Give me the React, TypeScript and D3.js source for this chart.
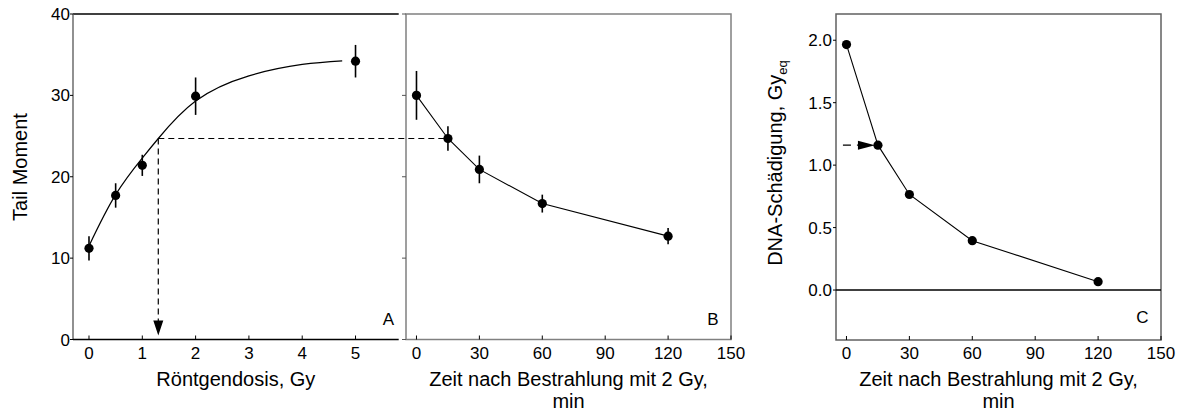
import React from "react";
import * as d3 from "d3";

// Panel A: tail moment vs. X-ray dose
const doseA = [0, 0.5, 1, 2, 5];
const tailA = [11.2, 17.7, 21.4, 29.9, 34.2];
const errA = [1.5, 1.5, 1.3, 2.3, 2.0];
// fitted dose–response curve (support points)
const fitDose = [0, 0.5, 1, 1.3, 2, 3, 4, 4.75];
const fitTail = [11.5, 17.8, 22.3, 24.7, 29.3, 32.4, 33.8, 34.25];
// read-off: tail moment after 15 min repair -> equivalent dose
const readDose = 1.3;
const readTail = 24.7;

// Panel B: tail moment vs. repair time after 2 Gy
const timeB = [0, 15, 30, 60, 120];
const tailB = [30.0, 24.7, 20.9, 16.7, 12.7];
const errB = [3.0, 1.5, 1.7, 1.1, 1.0];

// Panel C: DNA damage in Gy equivalents
const timeC = [0, 15, 30, 60, 120];
const damageC = [1.965, 1.16, 0.765, 0.395, 0.067];

const ticksA = [0, 1, 2, 3, 4, 5];
const ticksY = [0, 10, 20, 30, 40];
const ticksT = [0, 30, 60, 90, 120, 150];
const ticksC = [0, 0.5, 1.0, 1.5, 2.0];

const FONT = "'Liberation Sans', Arial, Helvetica, sans-serif";
const TICK_FS = 17;
const TITLE_FS = 20;

const xA = d3.scaleLinear().domain([-0.3, 5.81]).range([73, 398.7]);
const yA = d3.scaleLinear().domain([0, 40]).range([339.5, 14]);
const xB = d3.scaleLinear().domain([-5, 150]).range([406, 731]);
const yB = yA;
const xC = d3.scaleLinear().domain([-5, 150]).range([836, 1161]);
const yC = d3.scaleLinear().domain([-0.4, 2.21]).range([340, 14]);

const R = 4.6;

function Dots({ xs, ys, x, y, err }: { xs: number[]; ys: number[]; x: any; y: any; err?: number[] }) {
  return (
    <g>
      {err &&
        xs.map((d, i) => (
          <line
            key={"e" + i}
            x1={x(d)}
            x2={x(d)}
            y1={y(ys[i] - err[i])}
            y2={y(ys[i] + err[i])}
            stroke="#000"
            strokeWidth={1.6}
          />
        ))}
      {xs.map((d, i) => (
        <circle key={"c" + i} cx={x(d)} cy={y(ys[i])} r={R} fill="#000" />
      ))}
    </g>
  );
}

export default function App() {
  const fitLine = d3
    .line<number>()
    .x((d) => xA(d))
    .y((_, i) => yA(fitTail[i]))
    .curve(d3.curveNatural)(fitDose) as string;

  const lineB = d3
    .line<number>()
    .x((d) => xB(d))
    .y((_, i) => yB(tailB[i]))(timeB) as string;

  const lineC = d3
    .line<number>()
    .x((d) => xC(d))
    .y((_, i) => yC(damageC[i]))(timeC) as string;

  const [a0, a1] = xA.range();
  const [aBot, aTop] = yA.range();
  const [b0, b1] = xB.range();
  const [c0, c1] = xC.range();
  const [cBot, cTop] = yC.range();

  const readX = xA(readDose);
  const readY = yA(readTail);
  const arrowTipY = aBot - 4;

  const arrowCY = yC(damageC[1]);
  const arrowTipX = xC(timeC[1]) - 3;

  return (
    <svg
      width={1186}
      height={415}
      style={{ position: "absolute", left: 0, top: 0, background: "#fff" }}
      fontFamily={FONT}
    >
      {/* ---------- Panel A ---------- */}
      <line x1={a0} x2={a1} y1={aTop} y2={aTop} stroke="#000" strokeWidth={1.3} />
      <line x1={a0} x2={a0} y1={aTop} y2={aBot} stroke="#555" strokeWidth={1.3} />
      <line x1={a0} x2={a1} y1={aBot} y2={aBot} stroke="#000" strokeWidth={1.3} />
      {ticksY.map((t) => (
        <g key={"ya" + t}>
          <line x1={a0 - 3} x2={a0} y1={yA(t)} y2={yA(t)} stroke="#000" strokeWidth={1} />
          <text x={a0 - 3} y={yA(t)} dy="0.36em" textAnchor="end" fontSize={TICK_FS}>
            {t}
          </text>
        </g>
      ))}
      {ticksA.map((t) => (
        <g key={"xa" + t}>
          <line x1={xA(t)} x2={xA(t)} y1={aBot} y2={aBot - 4} stroke="#000" strokeWidth={1} />
          <text x={xA(t)} y={358.5} textAnchor="middle" fontSize={TICK_FS}>
            {t}
          </text>
        </g>
      ))}
      <text
        transform={`translate(27, 167) rotate(-90)`}
        textAnchor="middle"
        fontSize={TITLE_FS}
      >
        Tail Moment
      </text>
      <text x={(a0 + a1) / 2} y={386} textAnchor="middle" fontSize={TITLE_FS}>
        Röntgendosis, Gy
      </text>
      <text x={394} y={325} textAnchor="end" fontSize={17}>
        A
      </text>

      <path d={fitLine} fill="none" stroke="#000" strokeWidth={1.2} />

      {/* read-off lines */}
      <line
        x1={readX}
        x2={xB(timeB[1])}
        y1={readY}
        y2={readY}
        stroke="#000"
        strokeWidth={1.2}
        strokeDasharray="6,4"
      />
      <line
        x1={readX}
        x2={readX}
        y1={readY}
        y2={arrowTipY - 14}
        stroke="#000"
        strokeWidth={1.2}
        strokeDasharray="6,4"
      />
      <path
        d={`M${readX - 5},${arrowTipY - 15} L${readX + 5},${arrowTipY - 15} L${readX},${arrowTipY} Z`}
        fill="#000"
      />

      <Dots xs={doseA} ys={tailA} x={xA} y={yA} err={errA} />

      {/* ---------- Panel B ---------- */}
      <rect
        x={b0}
        y={aTop}
        width={b1 - b0}
        height={aBot - aTop}
        fill="none"
        stroke="#808080"
        strokeWidth={1.5}
      />
      {ticksY.map((t) => (
        <line key={"yb" + t} x1={b0 - 4} x2={b0} y1={yB(t)} y2={yB(t)} stroke="#555" strokeWidth={1} />
      ))}
      {ticksT.map((t) => (
        <g key={"xb" + t}>
          <line x1={xB(t)} x2={xB(t)} y1={aBot} y2={aBot - 4} stroke="#000" strokeWidth={1} />
          <text x={xB(t)} y={358.5} textAnchor="middle" fontSize={TICK_FS}>
            {t}
          </text>
        </g>
      ))}
      <text x={(b0 + b1) / 2} y={386} textAnchor="middle" fontSize={TITLE_FS}>
        Zeit nach Bestrahlung mit 2 Gy,
      </text>
      <text x={(b0 + b1) / 2} y={408} textAnchor="middle" fontSize={TITLE_FS}>
        min
      </text>
      <text x={718.5} y={325} textAnchor="end" fontSize={17}>
        B
      </text>
      <path d={lineB} fill="none" stroke="#000" strokeWidth={1.1} />
      <Dots xs={timeB} ys={tailB} x={xB} y={yB} err={errB} />

      {/* ---------- Panel C ---------- */}
      <rect
        x={c0}
        y={cTop}
        width={c1 - c0}
        height={cBot - cTop}
        fill="none"
        stroke="#606060"
        strokeWidth={1.5}
      />
      <line x1={c0} x2={c1} y1={yC(0)} y2={yC(0)} stroke="#000" strokeWidth={1.6} />
      {ticksC.map((t) => (
        <g key={"yc" + t}>
          <line x1={c0 - 3} x2={c0} y1={yC(t)} y2={yC(t)} stroke="#000" strokeWidth={1} />
          <text x={c0 - 4} y={yC(t)} dy="0.36em" textAnchor="end" fontSize={TICK_FS}>
            {t.toFixed(1)}
          </text>
        </g>
      ))}
      {ticksT.map((t) => (
        <g key={"xc" + t}>
          <line x1={xC(t)} x2={xC(t)} y1={cBot} y2={cBot - 4} stroke="#000" strokeWidth={1} />
          <text x={xC(t)} y={358.5} textAnchor="middle" fontSize={TICK_FS}>
            {t}
          </text>
        </g>
      ))}
      <text
        transform={`translate(781.5, 163) rotate(-90)`}
        textAnchor="middle"
        fontSize={TITLE_FS}
      >
        DNA-Schädigung, Gy
        <tspan fontSize={13} dy={5}>
          eq
        </tspan>
      </text>
      <text x={(c0 + c1) / 2} y={386} textAnchor="middle" fontSize={TITLE_FS}>
        Zeit nach Bestrahlung mit 2 Gy,
      </text>
      <text x={(c0 + c1) / 2} y={408} textAnchor="middle" fontSize={TITLE_FS}>
        min
      </text>
      <text x={1148.5} y={323} textAnchor="end" fontSize={17}>
        C
      </text>
      <path d={lineC} fill="none" stroke="#000" strokeWidth={1.1} />

      {/* equivalent-dose marker */}
      <line
        x1={arrowTipX - 32}
        x2={arrowTipX - 17}
        y1={arrowCY}
        y2={arrowCY}
        stroke="#000"
        strokeWidth={1.2}
        strokeDasharray="8,6"
      />
      <path
        d={`M${arrowTipX - 17},${arrowCY - 4.5} L${arrowTipX - 17},${arrowCY + 4.5} L${arrowTipX},${arrowCY} Z`}
        fill="#000"
      />
      <Dots xs={timeC} ys={damageC} x={xC} y={yC} />
    </svg>
  );
}
